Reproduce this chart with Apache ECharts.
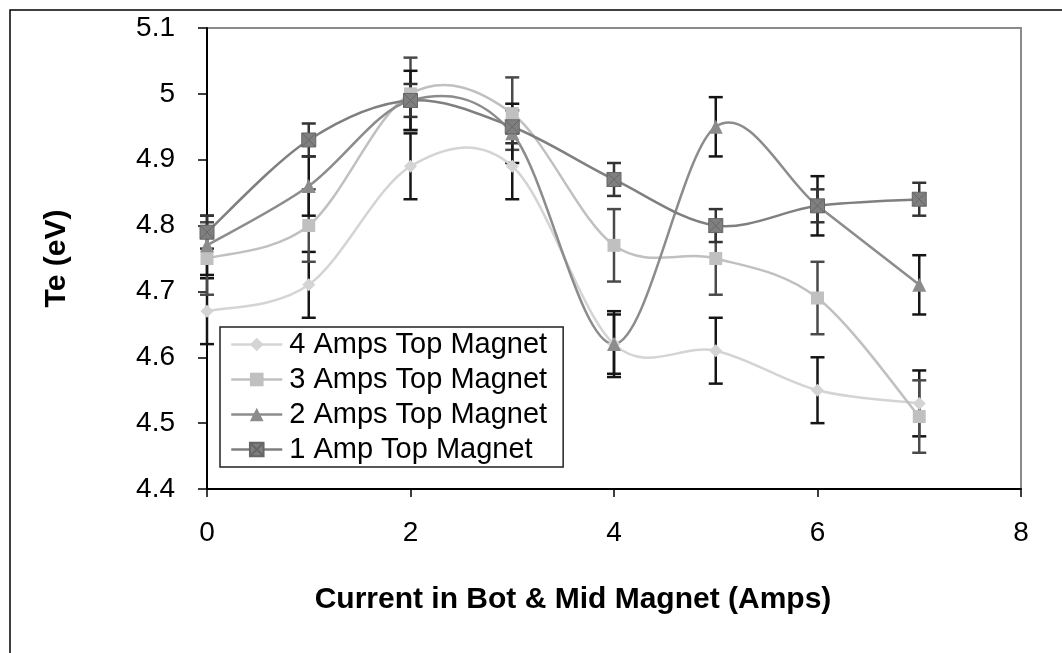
<!DOCTYPE html>
<html lang="en">
<head>
    <title>Te vs current</title>
    <meta charset="utf-8">
    <style>
        html, body { margin: 0; padding: 0; background: #fff; }
    </style>
</head>
<body>
<script type="text/javascript" src="https://cdn.jsdelivr.net/npm/echarts@6/dist/echarts.min.js"></script>
<div id="main" style="width: 1062px;height: 653px"></div>
<script type="text/javascript">
    // x values (current in bot & mid magnet)
    var currents = [0, 1, 2, 3, 4, 5, 6, 7];
    var names = ['4 Amps Top Magnet', '3 Amps Top Magnet', '2 Amps Top Magnet', '1 Amp Top Magnet'];
    // Te values
    var te4 = [4.67, 4.71, 4.89, 4.89, 4.62, 4.61, 4.55, 4.53];
    var te3 = [4.75, 4.80, 5.00, 4.97, 4.77, 4.75, 4.69, 4.51];
    var te2 = [4.77, 4.86, 4.99, 4.94, 4.62, 4.95, 4.83, 4.71];
    var te1 = [4.79, 4.93, 4.99, 4.95, 4.87, 4.80, 4.83, 4.84];
    // half height of the error bars
    var err4 = [0.05, 0.05, 0.05, 0.05, 0.05, 0.05, 0.05, 0.05];
    var err3 = [0.055, 0.055, 0.055, 0.055, 0.055, 0.055, 0.055, 0.055];
    var err2 = [0.045, 0.045, 0.045, 0.045, 0.045, 0.045, 0.045, 0.045];
    var err1 = [0.025, 0.025, 0.025, 0.025, 0.025, 0.025, 0.025, 0.025];

    var lineColors = ['#d4d4d4', '#c0c0c0', '#8c8c8c', '#7f7f7f'];
    var barColors = ['#151515', '#4a4a4a', '#151515', '#333333'];
    var symbols = ['diamond', 'rect', 'triangle', 'path://M0,0L10,0L10,10L0,10Z M0,0L10,10 M10,0L0,10'];
    var symbolSizes = [13, 13, 14, 14];

    var values = [te4, te3, te2, te1];
    var errors = [err4, err3, err2, err1];
    var FONT = 'Liberation Sans, Arial, sans-serif';

    var dom = document.getElementById('main');
    var myChart = echarts.init(dom);

    var series = [];
    // error bars first, so lines and markers sit on top
    values.forEach(function (vals, s) {
        var data = [];
        for (var i = 0; i < currents.length; i++) {
            data.push([currents[i], vals[i] - errors[s][i], vals[i] + errors[s][i]]);
        }
        series.push({
            type: 'custom',
            name: 'err' + s,
            z: 1,
            silent: true,
            renderItem: function (params, api) {
                var x = api.value(0);
                var lo = api.coord([x, api.value(1)]);
                var hi = api.coord([x, api.value(2)]);
                var hw = 7;
                var st = { stroke: barColors[s], lineWidth: 2.5 };
                return {
                    type: 'group',
                    children: [
                        { type: 'line', shape: { x1: lo[0], y1: lo[1], x2: hi[0], y2: hi[1] }, style: st },
                        { type: 'line', shape: { x1: lo[0] - hw, y1: lo[1], x2: lo[0] + hw, y2: lo[1] }, style: st },
                        { type: 'line', shape: { x1: hi[0] - hw, y1: hi[1], x2: hi[0] + hw, y2: hi[1] }, style: st }
                    ]
                };
            },
            encode: { x: 0, y: [1, 2] },
            data: data
        });
    });
    // smoothed curves (catmull-rom, like the spreadsheet's smoothed line)
    values.forEach(function (vals, s) {
        var data = [];
        for (var i = 0; i < currents.length - 1; i++) {
            data.push([currents[i], vals[i], i]);
        }
        series.push({
            type: 'custom',
            name: 'curve' + s,
            z: 2,
            silent: true,
            renderItem: function (params, api) {
                var i = api.value(2);
                var n = currents.length;
                var pt = function (k) {
                    k = Math.max(0, Math.min(n - 1, k));
                    return api.coord([currents[k], vals[k]]);
                };
                var p0 = pt(i - 1), p1 = pt(i), p2 = pt(i + 1), p3 = pt(i + 2);
                return {
                    type: 'bezierCurve',
                    shape: {
                        x1: p1[0], y1: p1[1],
                        x2: p2[0], y2: p2[1],
                        cpx1: p1[0] + (p2[0] - p0[0]) / 6, cpy1: p1[1] + (p2[1] - p0[1]) / 6,
                        cpx2: p2[0] - (p3[0] - p1[0]) / 6, cpy2: p2[1] - (p3[1] - p1[1]) / 6
                    },
                    style: { stroke: lineColors[s], lineWidth: 2.5, fill: 'none' }
                };
            },
            encode: { x: 0, y: 1 },
            data: data
        });
    });
    values.forEach(function (vals, s) {
        var data = [];
        for (var i = 0; i < currents.length; i++) {
            data.push([currents[i], vals[i]]);
        }
        series.push({
            type: 'line',
            name: names[s],
            z: 3 + s,
            symbol: symbols[s],
            symbolSize: symbolSizes[s],
            showAllSymbol: true,
            lineStyle: { color: lineColors[s], width: 2.5, opacity: 0 },
            itemStyle: s === 3 ? { color: '#7f7f7f', borderColor: '#666', borderWidth: 1 } : { color: lineColors[s] },
            data: data
        });
    });

    var legendData = names.map(function (nm, s) {
        return { name: nm, lineStyle: { color: lineColors[s], width: 2.5, opacity: 1 } };
    });

    var option = {
        animation: false,
        backgroundColor: '#fff',
        textStyle: { fontFamily: FONT },
        graphic: [{
            type: 'rect',
            shape: { x: 10, y: 10, width: 1080, height: 680 },
            style: { fill: 'none', stroke: '#000', lineWidth: 1.5 },
            z: 0
        }, {
            type: 'polyline',
            shape: { points: [[207, 28], [1021, 28], [1021, 489]] },
            style: { fill: 'none', stroke: '#8a8a8a', lineWidth: 2 },
            z: 0
        }],
        grid: { left: 207, top: 28, right: 41, bottom: 164, containLabel: false },
        legend: {
            orient: 'vertical',
            left: 220,
            top: 327,
            data: legendData,
            backgroundColor: '#fff',
            borderColor: '#222',
            borderWidth: 1.5,
            padding: [3, 16, 3, 10],
            itemGap: 6,
            itemWidth: 51,
            itemHeight: 17,
            textStyle: { fontSize: 29, color: '#000', fontFamily: FONT, padding: [0, 0, 0, 2] }
        },
        xAxis: {
            type: 'value',
            min: 0,
            max: 8,
            interval: 2,
            name: 'Current in Bot & Mid Magnet (Amps)',
            nameLocation: 'middle',
            nameGap: 96,
            nameTextStyle: { fontSize: 30, fontWeight: 'bold', color: '#000', fontFamily: FONT, padding: [0, 82, 0, 0] },
            axisLine: { lineStyle: { color: '#000', width: 2 } },
            axisTick: { inside: false, length: 8, lineStyle: { color: '#000', width: 1.5 } },
            axisLabel: { fontSize: 28, color: '#000', margin: 30, fontFamily: FONT },
            splitLine: { show: false }
        },
        yAxis: {
            type: 'value',
            min: 4.4,
            max: 5.1,
            interval: 0.1,
            name: 'Te (eV)',
            nameLocation: 'middle',
            nameGap: 135,
            nameRotate: 90,
            nameTextStyle: { fontSize: 30, fontWeight: 'bold', color: '#000', fontFamily: FONT },
            axisLine: { show: true, lineStyle: { color: '#000', width: 2 } },
            axisTick: { show: true, inside: false, length: 9, lineStyle: { color: '#000', width: 1.5 } },
            axisLabel: {
                fontSize: 28,
                color: '#000',
                margin: 32,
                fontFamily: FONT,
                formatter: function (v) { return String(Math.round(v * 10) / 10); }
            },
            splitLine: { show: false }
        },
        series: series
    };
    myChart.setOption(option);
</script>
</body>
</html>
